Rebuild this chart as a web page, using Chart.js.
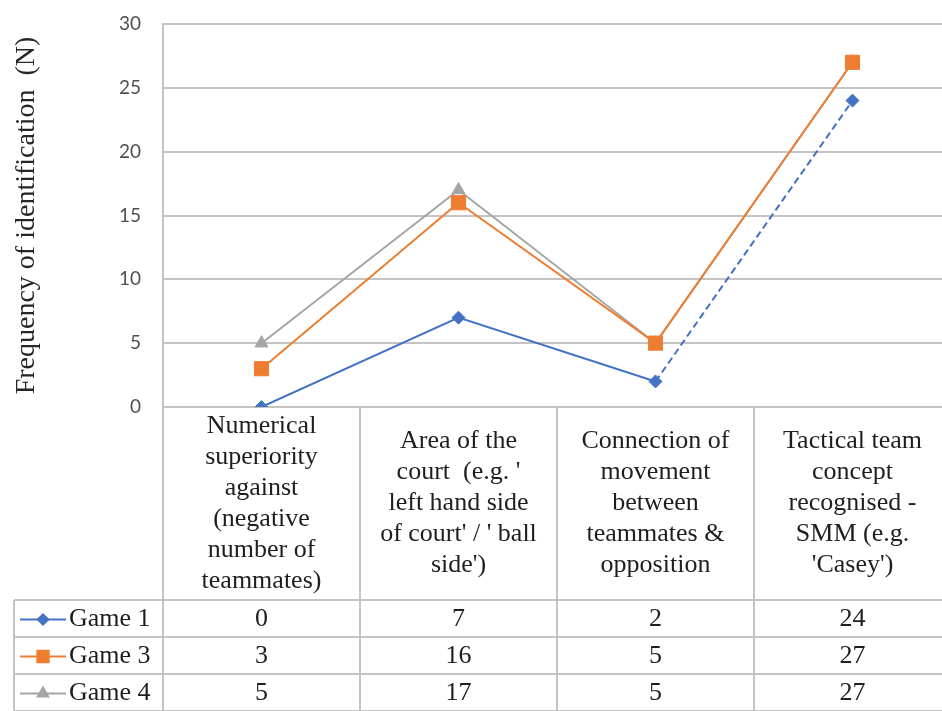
<!DOCTYPE html>
<html>
<head>
<meta charset="utf-8">
<script src="https://cdn.jsdelivr.net/npm/chart.js@4/dist/chart.umd.min.js"></script>
<style>
  html, body { margin: 0; padding: 0; overflow: hidden; background: #ffffff; }
  #wrap { width: 951px; height: 711px; }
</style>
</head>
<body>
<div id="wrap"><canvas id="chart" width="951" height="711"></canvas></div>
<script>
// Category labels (one entry per line of the wrapped header text)
const categories = [
  ["Numerical", "superiority", "against", "(negative", "number of", "teammates)"],
  ["Area of the", "court  (e.g. '", "left hand side", "of court' / ' ball", "side')"],
  ["Connection of", "movement", "between", "teammates &", "opposition"],
  ["Tactical team", "concept", "recognised -", "SMM (e.g.", "'Casey')"]
];

const seriesNames = ["Game 1", "Game 3", "Game 4"];
const game1 = [0, 7, 2, 24];
const game3 = [3, 16, 5, 27];
const game4 = [5, 17, 5, 27];

const yTicks = [0, 5, 10, 15, 20, 25, 30];
const yTitle = "Frequency of identification  (N)";

const BLUE = "#4472C4";
const ORANGE = "#ED7D31";
const GREY = "#A5A5A5";
const RULE = "#c4c4c4";
const SERIF = '"Liberation Serif", "Times New Roman", serif';

const styles = [
  { color: BLUE, pointStyle: "rectRot", radius: 6.5 },
  { color: ORANGE, pointStyle: "rect", radius: 10 },
  { color: GREY, pointStyle: "triangle", radius: 7.5 }
];

const allSeries = [game1, game3, game4];

// Data table under the plot: header cells with the category names,
// then one row per series with its legend key and values.
const HEADER_BOTTOM = 600;
const ROW_H = 37;
const TABLE_LEFT = 14;
const LINE_H = 31;

const dataTable = {
  id: "dataTable",
  beforeDatasetsDraw(chart) {
    const { ctx, chartArea, scales } = chart;
    const x = scales.x;
    const half = (x.getPixelForValue(1) - x.getPixelForValue(0)) / 2;
    const bottom = chart.height;
    ctx.save();
    ctx.strokeStyle = RULE;
    ctx.lineWidth = 2;
    ctx.beginPath();
    // column separators
    for (let i = 0; i < categories.length; i++) {
      const bx = x.getPixelForValue(i) + half;
      ctx.moveTo(bx, chartArea.bottom);
      ctx.lineTo(bx, bottom);
    }
    ctx.moveTo(chartArea.left, chartArea.bottom);
    ctx.lineTo(chartArea.left, bottom);
    // row rules
    for (let r = 0; r <= seriesNames.length; r++) {
      const ry = HEADER_BOTTOM + r * ROW_H;
      ctx.moveTo(TABLE_LEFT, ry);
      ctx.lineTo(chart.width, ry);
    }
    ctx.moveTo(TABLE_LEFT, HEADER_BOTTOM);
    ctx.lineTo(TABLE_LEFT, bottom);
    ctx.stroke();
    ctx.restore();
  },
  afterDraw(chart) {
    const { ctx, chartArea, scales } = chart;
    const x = scales.x;
    ctx.save();
    ctx.fillStyle = "#1e1e1e";
    ctx.font = "26px " + SERIF;
    ctx.textAlign = "center";
    ctx.textBaseline = "middle";
    const bandMid = (chartArea.bottom + HEADER_BOTTOM) / 2;
    categories.forEach((lines, i) => {
      const cx = x.getPixelForValue(i);
      lines.forEach((t, j) => {
        ctx.fillText(t, cx, bandMid + (j - (lines.length - 1) / 2) * LINE_H);
      });
    });
    // series rows
    seriesNames.forEach((name, r) => {
      const cy = HEADER_BOTTOM + r * ROW_H + ROW_H / 2 + 1;
      const st = styles[r];
      // legend key
      ctx.strokeStyle = st.color;
      ctx.fillStyle = st.color;
      ctx.lineWidth = 2;
      ctx.beginPath();
      ctx.moveTo(20, cy);
      ctx.lineTo(66, cy);
      ctx.stroke();
      Chart.helpers.drawPoint(ctx, {
        pointStyle: st.pointStyle,
        radius: st.radius * 0.8,
        rotation: 0,
        borderWidth: 1
      }, 43, cy);
      ctx.fillStyle = "#1e1e1e";
      ctx.textAlign = "left";
      ctx.fillText(name, 69, cy);
      ctx.textAlign = "center";
      allSeries[r].forEach((v, i) => {
        ctx.fillText(String(v), x.getPixelForValue(i), cy);
      });
    });
    ctx.restore();
  }
};

function makeDataset(label, data, st, extra) {
  return Object.assign({
    label,
    data,
    borderColor: st.color,
    backgroundColor: st.color,
    borderWidth: 2,
    pointStyle: st.pointStyle,
    pointRadius: st.radius,
    pointHoverRadius: st.radius,
    pointBackgroundColor: st.color,
    pointBorderColor: st.color,
    pointBorderWidth: 1,
    tension: 0
  }, extra || {});
}

new Chart(document.getElementById("chart"), {
  type: "line",
  data: {
    labels: categories.map(c => c.join(" ")),
    datasets: [
      makeDataset(seriesNames[0], game1, styles[0], {
        segment: {
          borderDash: ctx => (ctx.p0DataIndex === 2 ? [7, 4] : undefined)
        }
      }),
      makeDataset(seriesNames[1], game3, styles[1]),
      makeDataset(seriesNames[2], game4, styles[2])
    ]
  },
  options: {
    responsive: false,
    animation: false,
    devicePixelRatio: 1,
    layout: { autoPadding: false, padding: { top: 24, left: 0, right: 0, bottom: 304 } },
    plugins: {
      legend: { display: false },
      tooltip: { enabled: false },
      title: { display: false }
    },
    scales: {
      x: {
        type: "category",
        display: false,
        offset: true,
        ticks: { display: false }
      },
      y: {
        min: yTicks[0],
        max: yTicks[yTicks.length - 1],
        afterBuildTicks(scale) {
          scale.ticks = yTicks.map(v => ({ value: v }));
        },
        afterFit(scale) { scale.width = 163; },
        grid: {
          color: RULE,
          lineWidth: 2,
          drawTicks: true,
          tickLength: 22,
          tickColor: "rgba(0,0,0,0)"
        },
        border: { display: true, color: RULE, width: 2 },
        ticks: {
          padding: 0,
          color: "#505050",
          font: { family: "Lato, Carlito, sans-serif", size: 19 }
        },
        title: {
          display: true,
          text: yTitle,
          color: "#262626",
          font: { family: SERIF, size: 28 },
          padding: { top: 10, bottom: 0 }
        }
      }
    }
  },
  plugins: [dataTable]
});
</script>
</body>
</html>
